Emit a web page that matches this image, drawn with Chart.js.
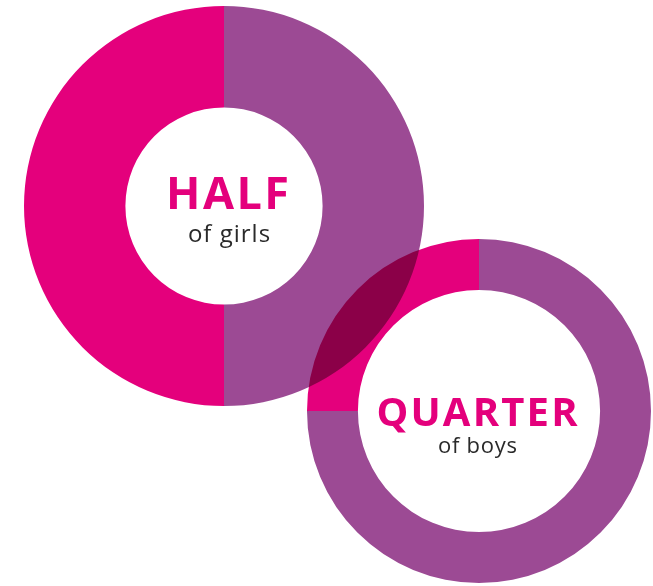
<!DOCTYPE html>
<html>
<head>
<meta charset="utf-8">
<script src="https://cdn.jsdelivr.net/npm/chart.js@4"></script>
<style>
  html, body { margin: 0; padding: 0; background: #fff; }
  #wrap { position: relative; width: 653px; height: 586px; overflow: hidden; }
  #girls { position: absolute; left: 24px; top: 6px; }
  #boys { position: absolute; left: 307px; top: 239px; mix-blend-mode: multiply; }
</style>
</head>
<body>
<div id="wrap">
  <canvas id="girls" width="400" height="400"></canvas>
  <canvas id="boys" width="344" height="344"></canvas>
</div>
<script>
// dados
const categorias = ['Sim', 'Não'];
const meninas = [50, 50];
const meninos = [75, 25];
const cores = ['#9c4a94', '#e4007c'];
const coresMeninos = ['#9c4a94', '#e4007c'];
const rotuloMeninas = ['HALF', 'of girls'];
const rotuloMeninos = ['QUARTER', 'of boys'];

// texto no centro do donut
function textoCentro(linhas, cfg) {
    return {
        id: 'textoCentro',
        afterDraw(chart) {
            const arco = chart.getDatasetMeta(0).data[0];
            const ctx = chart.ctx;
            ctx.save();
            ctx.textAlign = 'center';
            ctx.textBaseline = 'alphabetic';
            ctx.fillStyle = '#e4007c';
            ctx.font = 'bold ' + cfg.tamGrande + 'px "Open Sans"';
            ctx.letterSpacing = cfg.espGrande + 'px';
            ctx.fillText(linhas[0], arco.x + cfg.dxGrande + cfg.espGrande / 2, arco.y + cfg.dyGrande);
            ctx.fillStyle = '#2a2a2a';
            ctx.font = cfg.tamPequeno + 'px "Open Sans"';
            ctx.letterSpacing = cfg.espPequeno + 'px';
            ctx.fillText(linhas[1], arco.x + cfg.dxPequeno + cfg.espPequeno / 2, arco.y + cfg.dyPequeno);
            ctx.restore();
        }
    };
}

function criarDonut(id, dados, cor, cutout, plugin) {
    return new Chart(document.getElementById(id), {
        type: 'doughnut',
        data: {
            labels: categorias,
            datasets: [{
                data: dados,
                backgroundColor: cor,
                borderWidth: 0,
                hoverOffset: 0
            }]
        },
        options: {
            responsive: false,
            animation: false,
            events: [],
            cutout: cutout,
            layout: { padding: 0 },
            plugins: {
                legend: { display: false },
                tooltip: { enabled: false }
            }
        },
        plugins: [plugin]
    });
}

criarDonut('girls', meninas, cores, '49.3%', textoCentro(rotuloMeninas, {
    tamGrande: 45, espGrande: 2.5, dxGrande: 3.5, dyGrande: 3,
    tamPequeno: 24, espPequeno: 1, dxPequeno: 5, dyPequeno: 36
}));
criarDonut('boys', meninos, coresMeninos, '70.4%', textoCentro(rotuloMeninos, {
    tamGrande: 40, espGrande: 2.2, dxGrande: -2, dyGrande: 15,
    tamPequeno: 22, espPequeno: 0.7, dxPequeno: -1.5, dyPequeno: 42
}));
</script>
</body>
</html>
